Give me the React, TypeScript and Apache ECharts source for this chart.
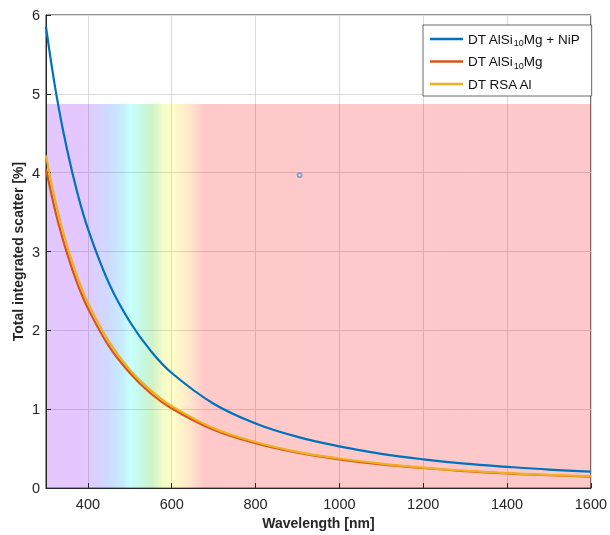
import React, { useEffect, useRef } from "react";
import * as echarts from "echarts";

const wavelengths = [300, 325, 350, 375, 400, 450, 500, 550, 600, 700, 800, 900, 1000, 1100, 1200, 1300, 1400, 1500, 1600];
const nipValues = [5.85, 4.98, 4.3, 3.74, 3.29, 2.6, 2.11, 1.74, 1.46, 1.07, 0.82, 0.65, 0.53, 0.435, 0.365, 0.31, 0.27, 0.235, 0.21];
const alsiValues = [4.05, 3.45, 2.98, 2.59, 2.28, 1.8, 1.46, 1.2, 1.01, 0.74, 0.57, 0.45, 0.365, 0.3, 0.255, 0.215, 0.185, 0.163, 0.145];
const rsaValues = [4.22, 3.58, 3.08, 2.68, 2.35, 1.86, 1.5, 1.24, 1.04, 0.76, 0.585, 0.46, 0.375, 0.31, 0.26, 0.22, 0.19, 0.167, 0.15];
const seriesNames = ["DT AlSi10Mg + NiP", "DT AlSi10Mg", "DT RSA Al"];
const xTicks = [400, 600, 800, 1000, 1200, 1400, 1600];
const strayPoint = [[905, 3.97]];
const bandTop = 4.87;
const xMin = 300;
const xMax = 1600;

const pair = (ys: number[]) => wavelengths.map((x, i) => [x, ys[i]]);

export default function App() {
  const ref = useRef<HTMLDivElement>(null);
  useEffect(() => {
    if (!ref.current) return;
    const chart = echarts.init(ref.current, null, { renderer: "svg" });
    const font = "Liberation Sans, Arial, sans-serif";
    const grad = new echarts.graphic.LinearGradient(0, 0, 1, 0, [
      { offset: 0, color: "rgb(130,0,255)" },
      { offset: 0.07, color: "rgb(135,0,255)" },
      { offset: 0.115, color: "rgb(30,90,255)" },
      { offset: 0.14, color: "rgb(0,170,255)" },
      { offset: 0.155, color: "rgb(0,255,245)" },
      { offset: 0.18, color: "rgb(0,220,110)" },
      { offset: 0.195, color: "rgb(40,200,0)" },
      { offset: 0.215, color: "rgb(200,240,0)" },
      { offset: 0.232, color: "rgb(255,250,0)" },
      { offset: 0.265, color: "rgb(255,140,20)" },
      { offset: 0.29, color: "rgb(255,10,10)" },
      { offset: 1, color: "rgb(235,5,20)" },
    ]);
    const colors = ["#0072BD", "#D95319", "#EDB120"];
    const lineSeries = [nipValues, alsiValues, rsaValues].map((vals, i) => ({
      name: seriesNames[i],
      type: "line",
      data: pair(vals),
      smooth: 0.4,
      symbol: "none",
      z: 2 + i,
      lineStyle: { width: 2.2, color: colors[i] },
      itemStyle: { color: colors[i] },
    }));
    chart.setOption({
      animation: false,
      textStyle: { fontFamily: font },
      grid: { left: 46, right: 18, top: 15, bottom: 46, show: true, borderColor: "#262626", borderWidth: 1 },
      legend: {
        data: seriesNames,
        orient: "vertical",
        left: 423,
        top: 25,
        padding: [6, 12, 4, 7],
        itemGap: 6,
        itemWidth: 33,
        itemHeight: 2.5,
        icon: "rect",
        backgroundColor: "#ffffff",
        borderColor: "#444",
        borderWidth: 0.8,
        z: 20,
        textStyle: {
          fontSize: 13.5,
          color: "#111",
          fontFamily: font,
          lineHeight: 16,
          rich: {
            sub: { fontSize: 9, color: "#111", padding: [8, 0, 0, 0], fontFamily: font },
          },
        },
        formatter: (name: string) => name.replace(/10/, "{sub|10}"),
      },
      xAxis: {
        type: "value",
        min: xMin,
        max: xMax,
        z: 1,
        name: "Wavelength [nm]",
        nameLocation: "middle",
        nameGap: 26,
        nameTextStyle: { fontSize: 14, fontWeight: "bold", color: "#262626" },
        axisLine: { lineStyle: { color: "#262626" } },
        axisTick: { inside: true, length: 5, customValues: xTicks, lineStyle: { color: "#262626" } },
        axisLabel: { customValues: xTicks, fontSize: 14.5, color: "#262626", margin: 8, formatter: (v: number) => String(v) },
        splitLine: { show: true, lineStyle: { color: "#dadada", width: 1 } },
      },
      yAxis: {
        type: "value",
        min: 0,
        max: 6,
        interval: 1,
        z: 1,
        name: "Total integrated scatter [%]",
        nameLocation: "middle",
        nameGap: 21,
        nameMoveOverlap: false,
        nameTextStyle: { fontSize: 14, fontWeight: "bold", color: "#262626" },
        axisLine: { show: true, lineStyle: { color: "#262626" } },
        axisTick: { show: true, inside: true, length: 5, lineStyle: { color: "#262626" } },
        axisLabel: { fontSize: 14.5, color: "#262626", margin: 6 },
        splitLine: { show: true, lineStyle: { color: "#dadada", width: 1 } },
      },
      series: [
        ...lineSeries,
        {
          name: "marker",
          type: "scatter",
          data: strayPoint,
          symbol: "emptyCircle",
          symbolSize: 4,
          z: 4,
          itemStyle: { color: "#6d8fc0", borderWidth: 1 },
        },
        {
          name: "band",
          type: "line",
          data: [],
          z: 10,
          silent: true,
          markArea: {
            silent: true,
            itemStyle: { color: grad, opacity: 0.22 },
            data: [[{ coord: [xMin, 0] }, { coord: [xMax, bandTop] }]],
          },
        },
      ],
    });
    return () => chart.dispose();
  }, []);
  return <div ref={ref} style={{ position: "fixed", left: 0, top: 0, width: 610, height: 535 }} />;
}
